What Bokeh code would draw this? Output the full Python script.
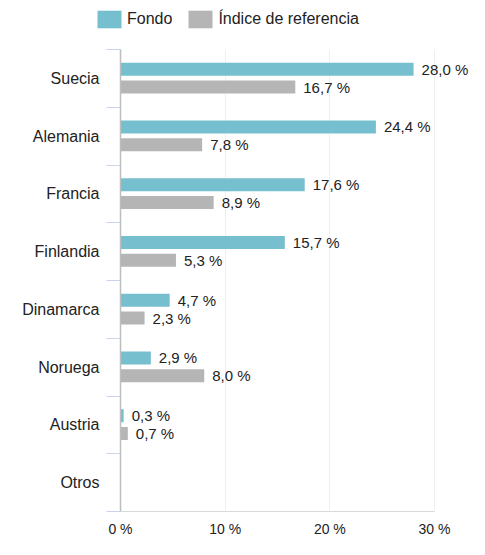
from bokeh.plotting import figure
from bokeh.layouts import column
from bokeh.models import (ColumnDataSource, FixedTicker, LabelSet, Legend,
                          LegendItem, Range1d)
from bokeh.core.properties import value
from bokeh.transform import dodge
from bokeh.embed import file_html
from bokeh.resources import INLINE

categories = ["Suecia", "Alemania", "Francia", "Finlandia", "Dinamarca",
              "Noruega", "Austria", "Otros"]
fondo = [28.0, 24.4, 17.6, 15.7, 4.7, 2.9, 0.3, None]
indice = [16.7, 7.8, 8.9, 5.3, 2.3, 8.0, 0.7, None]
x_ticks = [0, 10, 20, 30]
x_tick_labels = ["0 %", "10 %", "20 %", "30 %"]
series_names = ["Fondo", "Índice de referencia"]
colors = ["#76BFCE", "#B5B5B5"]

FONT = "Liberation Sans"
TXT = "#222222"

n = len(categories)
ypos = [n - i - 0.5 for i in range(n)]

W, H = 469, 539
LEG_H = 40
BL, BR, BT, BB = 120, 0, 9, 28
AXIS_W = 314  # pixels from 0 % to 30 %
x_end = x_ticks[-1] * (W - BL - BR) / AXIS_W


def fmt(v):
    return f"{v:.1f}".replace(".", ",") + " %"


def nanify(vals):
    return [float("nan") if v is None else v for v in vals]


src = ColumnDataSource(dict(y=ypos, fondo=nanify(fondo), indice=nanify(indice)))
fields = ["fondo", "indice"]
offsets = [0.16, -0.15]

# ---- legend strip (same bars, kept out of its view; only the legend shows) ----
pl = figure(width=W, height=LEG_H, output_backend="svg", toolbar_location=None,
            x_range=Range1d(-1000, -999), y_range=Range1d(-1000, -999),
            x_axis_location=None, y_axis_location=None,
            min_border_left=0, min_border_right=0, min_border_top=0,
            min_border_bottom=0)
pl.outline_line_color = None
pl.border_fill_color = "white"
pl.background_fill_color = "white"
pl.grid.visible = False
leg_renderers = [pl.hbar(y="y", right=f, left=0, height=0.225, source=src,
                         fill_color=c, line_color=None)
                 for f, c in zip(fields, colors)]
legend = Legend(items=[LegendItem(label=s, renderers=[r]) for s, r in zip(series_names, leg_renderers)],
                orientation="horizontal", location=(94, 10),
                glyph_width=30, glyph_height=22, label_height=22, label_standoff=3,
                spacing=13, padding=0, margin=0, border_line_color=None,
                background_fill_color=None, label_text_font=FONT,
                label_text_font_size="16px", label_text_color=TXT,
                label_text_baseline="middle")
pl.add_layout(legend)

# ---- main chart ---------------------------------------------------------
p = figure(width=W, height=H - LEG_H, output_backend="svg", toolbar_location=None,
           x_range=Range1d(0, x_end), y_range=Range1d(0, n),
           min_border_left=BL, min_border_right=BR, min_border_top=BT,
           min_border_bottom=BB)
p.outline_line_color = None
p.background_fill_color = "white"

for f, off, c in zip(fields, offsets, colors):
    p.hbar(y=dodge("y", off, range=p.y_range), right=f, left=0, height=0.225,
           source=src, fill_color=c, line_color=None)

for vals, off in zip([fondo, indice], offsets):
    ys = [y for y, v in zip(ypos, vals) if v is not None]
    xs = [v for v in vals if v is not None]
    lsrc = ColumnDataSource(dict(y=ys, x=xs, t=[fmt(v) for v in xs]))
    p.add_layout(LabelSet(x="x", y=dodge("y", off, range=p.y_range), text="t",
                          source=lsrc, x_offset=8, text_baseline="middle",
                          text_align="left", text_font=value(FONT),
                          text_font_size="15px", text_color=TXT))

# x axis
p.xaxis.ticker = FixedTicker(ticks=x_ticks)
p.xaxis.bounds = (x_ticks[0], x_ticks[-1])
p.xaxis.major_label_overrides = {t: l for t, l in zip(x_ticks, x_tick_labels)}
p.xaxis.axis_line_color = "#D9D9D9"
p.xaxis.major_tick_line_color = None
p.xaxis.minor_tick_line_color = None
p.xaxis.major_tick_out = 0
p.xaxis.minor_tick_out = 0
p.xaxis.major_label_standoff = 9
p.xaxis.major_label_text_font = FONT
p.xaxis.major_label_text_font_size = "14px"
p.xaxis.major_label_text_color = TXT
p.xgrid.ticker = FixedTicker(ticks=x_ticks)
p.xgrid.grid_line_color = "#EFEFEF"

# y axis
p.yaxis.ticker = FixedTicker(ticks=ypos, minor_ticks=list(range(n + 1)))
p.yaxis.major_label_overrides = {y: c for y, c in zip(ypos, categories)}
p.yaxis.axis_line_color = "#BDBDBD"
p.yaxis.axis_line_width = 1.5
p.yaxis.major_tick_line_color = None
p.yaxis.major_tick_out = 0
p.yaxis.major_tick_in = 0
p.yaxis.minor_tick_line_color = "#C9D3EC"
p.yaxis.minor_tick_out = 14
p.yaxis.minor_tick_in = 0
p.yaxis.major_label_standoff = 7
p.yaxis.major_label_text_font = FONT
p.yaxis.major_label_text_font_size = "16px"
p.yaxis.major_label_text_color = TXT
p.ygrid.grid_line_color = None

layout = column(pl, column(p), spacing=0)
open("out.html", "w").write(file_html(layout, INLINE))
